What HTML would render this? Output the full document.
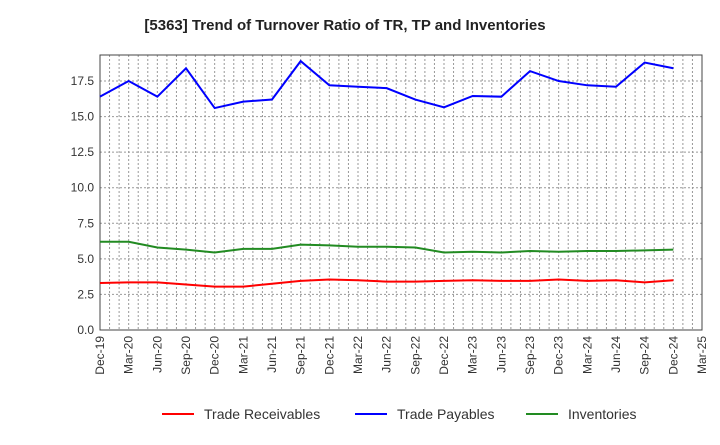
<!DOCTYPE html>
<html><head><meta charset="utf-8"><style>
body{margin:0;background:#fff;font-family:"Liberation Sans",sans-serif}
</style></head><body>
<svg id="c" width="720" height="440" xmlns="http://www.w3.org/2000/svg">
<text x="345" y="30" text-anchor="middle" font-size="15" font-weight="bold" fill="#222">[5363]  Trend of Turnover Ratio of TR, TP and Inventories</text>
<g id="grid"></g><g id="axes"></g><g id="series"></g><g id="legend"></g>
</svg>
<script>
const categories=["Dec-19","Mar-20","Jun-20","Sep-20","Dec-20","Mar-21","Jun-21","Sep-21","Dec-21","Mar-22","Jun-22","Sep-22","Dec-22","Mar-23","Jun-23","Sep-23","Dec-23","Mar-24","Jun-24","Sep-24","Dec-24","Mar-25"];
const payables=[16.4,17.5,16.4,18.4,15.6,16.05,16.2,18.9,17.2,17.1,17.0,16.2,15.65,16.45,16.4,18.2,17.5,17.2,17.1,18.8,18.4];
const inventories=[6.2,6.2,5.8,5.65,5.45,5.7,5.7,6.0,5.95,5.85,5.85,5.8,5.45,5.5,5.45,5.55,5.5,5.55,5.55,5.6,5.65];
const receivables=[3.3,3.35,3.35,3.2,3.05,3.05,3.25,3.45,3.55,3.5,3.4,3.4,3.45,3.5,3.45,3.45,3.55,3.45,3.5,3.35,3.5];
const yTicks=[0,2.5,5,7.5,10,12.5,15,17.5];
const NS="http://www.w3.org/2000/svg";
const L=100,R=702,T=55,B=330,YMAX=19.33;
const step=(R-L)/(categories.length-1);
const x=i=>L+i*step, y=v=>B-(v/YMAX)*(B-T);
function mk(tag,at,parent){const e=document.createElementNS(NS,tag);for(const k in at)e.setAttribute(k,at[k]);document.getElementById(parent).appendChild(e);return e;}
for(let m=0;m<=(categories.length-1)*3;m++){const xx=L+m*step/3;
const g=mk('line',{x1:xx,x2:xx,y1:T,y2:B,stroke:'#999','stroke-dasharray':'2,2','stroke-width':1},'grid');

}
yTicks.forEach(v=>{const g=mk('line',{x1:L,x2:R,y1:y(v),y2:y(v),stroke:'#999','stroke-dasharray':'2,2'},'grid');


const t=mk('text',{x:L-6,y:y(v)+4,'text-anchor':'end','font-size':12,fill:'#333'},'axes');t.textContent=v.toFixed(1);

});
const fr=mk('rect',{x:L,y:T,width:R-L,height:B-T,fill:'none',stroke:'#444'},'axes');


categories.forEach((c,i)=>{const t=mk('text',{transform:`translate(${x(i)+4},${B+6}) rotate(-90)`,'text-anchor':'end','font-size':12,fill:'#333'},'axes');t.textContent=c;

});
const series=[["Trade Receivables",receivables,"#ff0000"],["Trade Payables",payables,"#0000ff"],["Inventories",inventories,"#228b22"]];
const lx=[162,355,526];
series.forEach(([n,d,col],k)=>{const p=mk('polyline',{points:d.map((v,i)=>x(i)+','+y(v)).join(' '),fill:'none',stroke:col,'stroke-width':2},'series');


const ll=mk('line',{x1:lx[k],x2:lx[k]+32,y1:414,y2:414,stroke:col,'stroke-width':2},'legend');


const t=mk('text',{x:lx[k]+42,y:419,'font-size':14,fill:'#333'},'legend');t.textContent=n;

});
</script>
</body></html>
